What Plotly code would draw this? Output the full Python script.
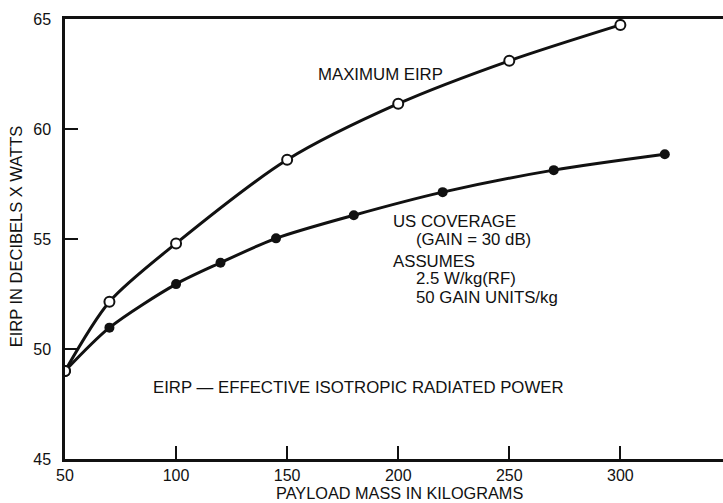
import plotly.graph_objects as go

# Data
max_mass = [50, 70, 100, 150, 200, 250, 300]
max_eirp = [49.0, 52.15, 54.8, 58.6, 61.15, 63.1, 64.73]

us_mass = [50, 70, 100, 120, 145, 180, 220, 270, 320]
us_eirp = [49.0, 50.97, 52.95, 53.92, 55.03, 56.08, 57.13, 58.13, 58.85]

x_ticks = [50, 100, 150, 200, 250, 300]
y_ticks = [45, 50, 55, 60, 65]

FONT = "Liberation Sans"
INK = "#111111"

fig = go.Figure()
fig.add_trace(go.Scatter(
    x=max_mass, y=max_eirp, mode="lines+markers",
    line=dict(color=INK, width=3, shape="spline", smoothing=0.8),
    marker=dict(symbol="circle", size=10, color="white", line=dict(color=INK, width=2)),
    showlegend=False, hoverinfo="skip"))
fig.add_trace(go.Scatter(
    x=us_mass, y=us_eirp, mode="lines+markers",
    line=dict(color=INK, width=3, shape="spline", smoothing=0.8),
    marker=dict(symbol="circle", size=10, color=INK),
    showlegend=False, hoverinfo="skip"))
# redraw first open marker on top
fig.add_trace(go.Scatter(
    x=max_mass[:1], y=max_eirp[:1], mode="markers",
    marker=dict(symbol="circle", size=10, color="white", line=dict(color=INK, width=2)),
    showlegend=False, hoverinfo="skip"))

ann_font = dict(family=FONT, size=16.8, color=INK)
annotations = [
    dict(x=191.9, y=62.5, text="MAXIMUM EIRP", xanchor="center"),
    dict(x=182.0, y=48.24, text="EIRP \u2014 EFFECTIVE ISOTROPIC RADIATED POWER", xanchor="center"),
    dict(x=196.8, y=55.78, text="US COVERAGE", xanchor="left"),
    dict(x=207.2, y=54.96, text="(GAIN = 30 dB)", xanchor="left"),
    dict(x=196.8, y=53.96, text="ASSUMES", xanchor="left"),
    dict(x=207.2, y=53.19, text="2.5 W/kg(RF)", xanchor="left"),
    dict(x=207.2, y=52.33, text="50 GAIN UNITS/kg", xanchor="left"),
]
for a in annotations:
    a.update(xref="x", yref="y", showarrow=False, yanchor="middle", font=ann_font)

annotations.append(dict(xref="paper", yref="paper", x=-0.0745, y=0.506,
                        text="EIRP IN DECIBELS X WATTS", textangle=-90,
                        showarrow=False, xanchor="center", yanchor="middle",
                        font=dict(family=FONT, size=16.5, color=INK)))
annotations.append(dict(xref="paper", yref="paper", x=0.5076, y=-0.0775,
                        text="PAYLOAD MASS IN KILOGRAMS",
                        showarrow=False, xanchor="center", yanchor="middle",
                        font=dict(family=FONT, size=16.3, color=INK)))

fig.update_layout(
    width=723, height=503,
    margin=dict(l=65, r=0, t=19, b=44, autoexpand=False),
    paper_bgcolor="white", plot_bgcolor="white",
    font=dict(family=FONT, size=16, color=INK),
    annotations=annotations,
    xaxis=dict(range=[50, 346.2], tickvals=x_ticks, ticktext=[str(v) for v in x_ticks],
               showgrid=False, zeroline=False, showline=True, linecolor=INK, linewidth=2.5,
               mirror=True, ticks="inside", ticklen=13, tickwidth=2, tickcolor=INK,
               tickfont=dict(family=FONT, size=16, color=INK)),
    yaxis=dict(range=[45, 65], tickvals=y_ticks, ticktext=[str(v) for v in y_ticks],
               showgrid=False, zeroline=False, showline=True, linecolor=INK, linewidth=2.5,
               ticks="inside", ticklen=13, tickwidth=2, tickcolor=INK,
               ticklabelstandoff=8,
               tickfont=dict(family=FONT, size=16, color=INK)),
)

fig.write_html("out.html")
